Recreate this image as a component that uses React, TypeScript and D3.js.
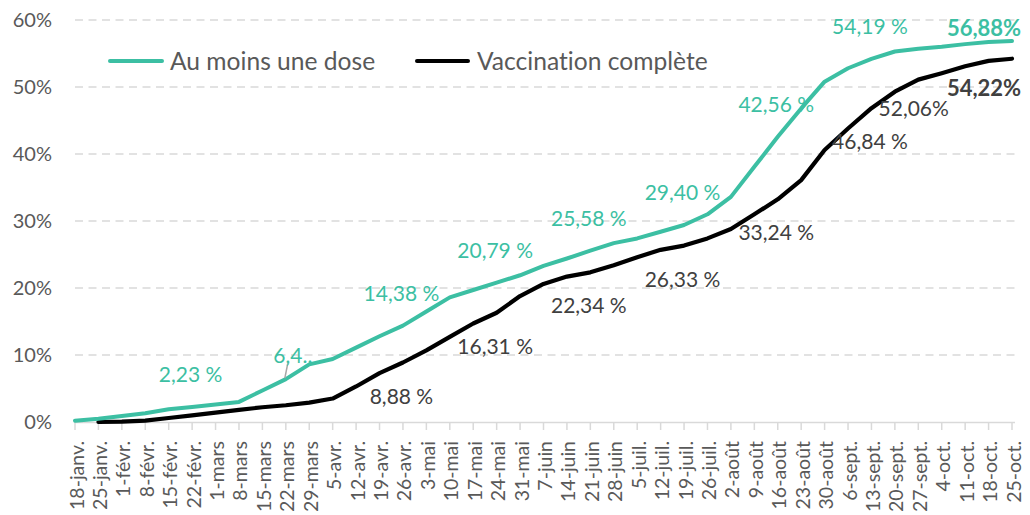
import React from "react";
import * as d3 from "d3";

const DATES = [
  "18-janv.", "25-janv.", "1-févr.", "8-févr.", "15-févr.", "22-févr.",
  "1-mars", "8-mars", "15-mars", "22-mars", "29-mars",
  "5-avr.", "12-avr.", "19-avr.", "26-avr.",
  "3-mai", "10-mai", "17-mai", "24-mai", "31-mai",
  "7-juin", "14-juin", "21-juin", "28-juin",
  "5-juil.", "12-juil.", "19-juil.", "26-juil.",
  "2-août", "9-août", "16-août", "23-août", "30-août",
  "6-sept.", "13-sept.", "20-sept.", "27-sept.",
  "4-oct.", "11-oct.", "18-oct.", "25-oct.",
];

// Au moins une dose (%)
const ONE_DOSE = [
  0.2, 0.5, 0.9, 1.3, 1.9, 2.23, 2.6, 3.0, 4.7, 6.4, 8.6,
  9.4, 11.1, 12.8, 14.38, 16.5, 18.6, 19.7, 20.79, 21.9,
  23.3, 24.4, 25.58, 26.7, 27.4, 28.4, 29.4, 31.0,
  33.6, 38.1, 42.56, 46.8, 50.8, 52.8, 54.19, 55.3, 55.7,
  56.0, 56.4, 56.7, 56.88,
];

// Vaccination complète (%)
const FULL = [
  null, 0.0, 0.05, 0.2, 0.6, 1.0, 1.4, 1.8, 2.2, 2.5, 2.9,
  3.5, 5.3, 7.3, 8.88, 10.7, 12.7, 14.7, 16.31, 18.8,
  20.6, 21.7, 22.34, 23.4, 24.6, 25.7, 26.33, 27.4,
  28.8, 31.0, 33.24, 36.1, 40.6, 43.8, 46.84, 49.3, 51.1,
  52.06, 53.1, 53.9, 54.22,
];

const Y_TICKS = [0, 10, 20, 30, 40, 50, 60];
const Y_TICK_LABELS = ["0%", "10%", "20%", "30%", "40%", "50%", "60%"];

const SERIES_NAMES = ["Au moins une dose", "Vaccination complète"];

const GREEN_LABEL_DATES = ["22-févr.", "26-avr.", "24-mai", "21-juin", "19-juil.", "16-août", "13-sept."];
const GREEN_LABEL_TEXTS = ["2,23 %", "14,38 %", "20,79 %", "25,58 %", "29,40 %", "42,56 %", "54,19 %"];
const BLACK_LABEL_DATES = ["26-avr.", "24-mai", "21-juin", "19-juil.", "16-août", "13-sept."];
const BLACK_LABEL_TEXTS = ["8,88 %", "16,31 %", "22,34 %", "26,33 %", "33,24 %", "46,84 %"];

const GREEN = "#3cbfa3";
const FONT = "Lato, 'Open Sans', sans-serif";
const NOLIG = { fontVariantLigatures: "none", fontFeatureSettings: '"liga" 0, "clig" 0' } as React.CSSProperties;

export default function App() {
  const W = 1030, H = 515;
  const x = d3.scalePoint<string>().domain(DATES).range([75, 1012]);
  const y = d3.scaleLinear().domain([0, 60]).range([422, 20]);

  const greenData = DATES.map((d, i) => ({ d, v: ONE_DOSE[i] as number | null }));
  const blackData = DATES.map((d, i) => ({ d, v: FULL[i] as number | null }));

  const line = d3
    .line<{ d: string; v: number | null }>()
    .defined((p) => p.v !== null)
    .x((p) => x(p.d) as number)
    .y((p) => y(p.v as number));

  const idx = (d: string) => DATES.indexOf(d);

  const i64 = idx("22-mars");
  const p64x = x("22-mars") as number;
  const p64y = y(ONE_DOSE[i64]);

  const i52 = idx("4-oct.");
  const p52x = x("4-oct.") as number;
  const p52y = y(FULL[i52] as number);

  const lastX = x(DATES[DATES.length - 1]) as number;
  const lastG = y(ONE_DOSE[ONE_DOSE.length - 1]);
  const lastB = y(FULL[FULL.length - 1] as number);

  return (
    <svg
      width={W}
      height={H}
      style={{ position: "absolute", left: 0, top: 0, background: "#fff", ...NOLIG }}
      fontFamily={FONT}
    >
      <rect width={W} height={H} fill="#fff" />
      {/* gridlines */}
      {Y_TICKS.filter((t) => t > 0).map((t) => (
        <line
          key={t}
          x1={75}
          x2={1015}
          y1={y(t)}
          y2={y(t)}
          stroke="#d9d9d9"
          strokeWidth={1.5}
          strokeDasharray="8,5.5"
        />
      ))}
      {/* y tick labels */}
      {Y_TICKS.map((t, i) => (
        <text key={t} x={52} y={y(t) + 7} textAnchor="end" fontSize={20} fill="#595959">
          {Y_TICK_LABELS[i]}
        </text>
      ))}
      {/* x axis */}
      <line x1={75} x2={1015} y1={422.5} y2={422.5} stroke="#d9d9d9" strokeWidth={1.5} />
      {DATES.map((d) => (
        <line key={"t" + d} x1={x(d)} x2={x(d)} y1={422} y2={430} stroke="#d9d9d9" strokeWidth={1.5} />
      ))}
      {DATES.map((d) => (
        <text
          key={"l" + d}
          transform={`translate(${(x(d) as number) + 8.5},441) rotate(-90)`}
          textAnchor="end"
          fontSize={19.5}
          fill="#595959"
        >
          {d}
        </text>
      ))}
      {/* lines */}
      <path d={line(blackData) || ""} fill="none" stroke="#000" strokeWidth={4.2} strokeLinejoin="round" strokeLinecap="round" />
      <path d={line(greenData) || ""} fill="none" stroke={GREEN} strokeWidth={4} strokeLinejoin="round" strokeLinecap="round" />

      {/* legend */}
      <line x1={110} x2={162} y1={61} y2={61} stroke={GREEN} strokeWidth={4} strokeLinecap="round" />
      <text x={170} y={69.5} fontSize={24.6} fill="#595959" style={NOLIG}>{SERIES_NAMES[0]}</text>
      <line x1={417} x2={468} y1={61} y2={61} stroke="#000" strokeWidth={4} strokeLinecap="round" />
      <text x={477} y={69.5} fontSize={24.6} fill="#595959" style={NOLIG}>{SERIES_NAMES[1]}</text>

      {/* green data labels */}
      {GREEN_LABEL_DATES.map((d, i) => (
        <text
          key={"g" + d}
          x={(x(d) as number) - 1.5}
          y={y(ONE_DOSE[idx(d)]) - 25}
          textAnchor="middle"
          fontSize={21}
          fill={GREEN}
        >
          {GREEN_LABEL_TEXTS[i]}
        </text>
      ))}
      {/* black data labels */}
      {BLACK_LABEL_DATES.map((d, i) => (
        <text
          key={"b" + d}
          x={(x(d) as number) - 1.5}
          y={y(FULL[idx(d)] as number) + 41}
          textAnchor="middle"
          fontSize={21}
          fill="#404040"
        >
          {BLACK_LABEL_TEXTS[i]}
        </text>
      ))}
      {/* truncated label with leader */}
      <line x1={p64x + 2} y1={p64y - 16} x2={p64x - 1} y2={p64y - 1} stroke="#a6a6a6" strokeWidth={1.5} />
      <text x={p64x + 7} y={p64y - 16} textAnchor="middle" fontSize={21} fill={GREEN}>6,4..</text>
      <text x={p52x - 28} y={p52y + 43} textAnchor="middle" fontSize={21} fill="#404040">52,06%</text>
      {/* end labels */}
      <text x={lastX - 28} y={lastG - 5} textAnchor="middle" fontSize={22} fontWeight="bold" fill={GREEN}>56,88%</text>
      <text x={lastX - 28} y={lastB + 37} textAnchor="middle" fontSize={22} fontWeight="bold" fill="#404040">54,22%</text>
    </svg>
  );
}
